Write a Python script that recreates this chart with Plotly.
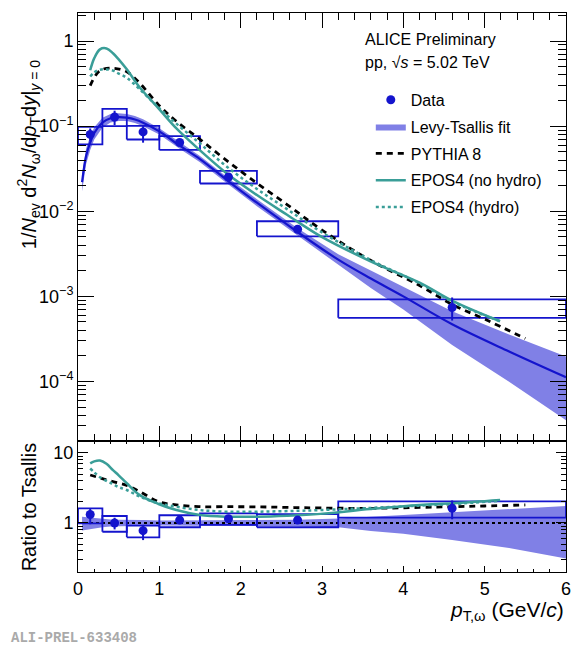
import plotly.graph_objects as go

# --- data ---
bin_lo = [0.0, 0.3, 0.6, 1.0, 1.5, 2.2, 3.2]
bin_hi = [0.3, 0.6, 1.0, 1.5, 2.2, 3.2, 6.0]
pt = [0.15, 0.45, 0.8, 1.25, 1.85, 2.7, 4.6]

yield_val = [0.080, 0.128, 0.0857, 0.0643, 0.0253, 0.00614, 7.4e-4]
stat_hi = [0.094, 0.152, 0.100, 0.070, 0.0270, 0.0067, 9.7e-4]
stat_lo = [0.066, 0.103, 0.064, 0.059, 0.0237, 0.0056, 5.2e-4]
syst_hi = [0.098, 0.160, 0.101, 0.0763, 0.0298, 0.00763, 9.2e-4]
syst_lo = [0.061, 0.100, 0.0697, 0.0526, 0.0212, 0.00508, 5.6e-4]

ratio_val = [1.32, 1.00, 0.777, 1.10, 1.15, 1.10, 1.62]
ratio_stat_hi = [1.62, 1.19, 0.94, 1.22, 1.24, 1.24, 2.10]
ratio_stat_lo = [0.96, 0.81, 0.57, 0.99, 1.06, 0.97, 1.13]
ratio_syst_hi = [1.62, 1.26, 0.916, 1.29, 1.37, 1.34, 2.04]
ratio_syst_lo = [0.99, 0.75, 0.624, 0.87, 0.94, 0.87, 1.19]

# Levy-Tsallis fit and its band
fit_x = [0.05, 0.1, 0.15, 0.2, 0.3, 0.4, 0.5, 0.6, 0.7, 0.8, 1.0, 1.25, 1.5,
         1.85, 2.2, 2.7, 3.2, 3.6, 4.0, 4.6, 5.3, 6.0]
fit_y = [0.022, 0.045, 0.064, 0.083, 0.110, 0.124, 0.128, 0.126, 0.120, 0.110,
         0.087, 0.059, 0.041, 0.0225, 0.0126, 0.0057, 0.0027, 0.00162, 0.00100,
         4.7e-4, 2.25e-4, 1.12e-4]
fit_hi = [0.0271, 0.0545, 0.0762, 0.0971, 0.1254, 0.1389, 0.1421, 0.1386, 0.132,
          0.121, 0.0948, 0.0643, 0.0447, 0.0245, 0.01386, 0.00633, 0.00313,
          0.00201, 0.0013, 6.67e-4, 3.56e-4, 1.96e-4]
fit_lo = [0.0172, 0.036, 0.0525, 0.0697, 0.0957, 0.1104, 0.1152, 0.1147, 0.1092,
          0.1001, 0.080, 0.0543, 0.0377, 0.0207, 0.01147, 0.00513, 0.00235,
          0.00125, 0.0007, 2.68e-4, 9.9e-5, 3.5e-5]
band_ratio_hi = [1.23, 1.21, 1.19, 1.17, 1.14, 1.12, 1.11, 1.10, 1.10, 1.10, 1.09,
                 1.09, 1.09, 1.09, 1.10, 1.11, 1.16, 1.24, 1.30, 1.42, 1.58, 1.75]
band_ratio_lo = [0.78, 0.80, 0.82, 0.84, 0.87, 0.89, 0.90, 0.91, 0.91, 0.91, 0.92,
                 0.92, 0.92, 0.92, 0.91, 0.90, 0.87, 0.77, 0.70, 0.57, 0.44, 0.31]

# models
epos_x = [0.15, 0.2, 0.27, 0.35, 0.43, 0.5, 0.6, 0.76, 0.99, 1.21, 1.5, 1.83,
          2.2, 2.57, 2.98, 3.59, 4.2, 4.61, 5.19]
epos_nohydro = [0.454, 0.63, 0.80, 0.82, 0.72, 0.61, 0.466, 0.285, 0.162, 0.094,
                0.052, 0.0278, 0.0155, 0.0091, 0.0051, 0.0026, 0.00145, 8.8e-4,
                5.1e-4]
epos_nohydro_ratio = [7.1, 7.6, 7.8, 7.0, 5.7, 4.8, 3.7, 2.5, 1.87, 1.53, 1.30,
                      1.23, 1.23, 1.27, 1.35, 1.58, 1.81, 1.91, 2.13]
epos_hydro = [0.384, 0.43, 0.46, 0.465, 0.45, 0.415, 0.37, 0.271, 0.166, 0.107,
              0.0625, 0.0334, 0.0183, 0.0106, 0.0058, 0.0027, 0.00142, 8.6e-4,
              5.1e-4]
epos_hydro_ratio = [6.0, 5.3, 4.5, 4.0, 3.6, 3.25, 2.96, 2.38, 1.91, 1.71, 1.53,
                    1.45, 1.45, 1.48, 1.53, 1.64, 1.77, 1.87, 2.08]
pythia_x = [0.15, 0.27, 0.43, 0.6, 0.76, 0.99, 1.21, 1.5, 1.83, 2.2, 2.57, 2.98,
            3.59, 4.2, 4.61, 5.0, 5.5]
pythia = [0.30, 0.45, 0.48, 0.435, 0.32, 0.178, 0.114, 0.070, 0.0393, 0.0214,
          0.0120, 0.0062, 0.00267, 0.00134, 7.95e-4, 5.4e-4, 3.2e-4]
pythia_ratio = [4.85, 4.4, 3.9, 3.45, 2.8, 2.02, 1.81, 1.71, 1.71, 1.70, 1.67,
                1.64, 1.62, 1.67, 1.71, 1.75, 1.81]

BLUE = "rgb(20,20,205)"
BAND = "rgb(128,128,230)"
TEAL = "rgb(58,158,152)"
FONT = "Liberation Sans"


def box_path(lo, hi, ylo, yhi):
    xs, ys = [], []
    for a, b, c, d in zip(lo, hi, ylo, yhi):
        xs += [a, b, b, a, a, None]
        ys += [c, c, d, d, c, None]
    return xs, ys


fig = go.Figure()

for xa, ya, band_hi, band_lo, fy, vals, shi, slo, bhi, blo, mods, top in [
    ("x", "y", fit_hi, fit_lo, fit_y, yield_val, stat_hi, stat_lo, syst_hi, syst_lo,
     (pythia, epos_nohydro, epos_hydro), True),
    ("x2", "y2", band_ratio_hi, band_ratio_lo, [1] * len(fit_x), ratio_val,
     ratio_stat_hi, ratio_stat_lo, ratio_syst_hi, ratio_syst_lo,
     (pythia_ratio, epos_nohydro_ratio, epos_hydro_ratio), False),
]:
    fig.add_trace(go.Scatter(
        x=fit_x + fit_x[::-1], y=band_hi + band_lo[::-1], xaxis=xa, yaxis=ya,
        fill="toself", fillcolor=BAND, line=dict(width=0), mode="lines",
        name="Levy-Tsallis fit", legendgroup="b", showlegend=top, legendrank=2,
        hoverinfo="skip"))
    if top:
        fig.add_trace(go.Scatter(
            x=fit_x, y=fy, xaxis=xa, yaxis=ya, mode="lines", line_shape="spline",
            line=dict(color=BLUE, width=2.2), showlegend=False))
    else:
        fig.add_trace(go.Scatter(
            x=[0, 6], y=[1, 1], xaxis=xa, yaxis=ya, mode="lines",
            line=dict(color="black", width=2, dash="dot"), showlegend=False))
    bx, by = box_path(bin_lo, bin_hi, blo, bhi)
    fig.add_trace(go.Scatter(
        x=bx, y=by, xaxis=xa, yaxis=ya, mode="lines",
        line=dict(color=BLUE, width=1.8), showlegend=False))
    fig.add_trace(go.Scatter(
        x=pythia_x, y=mods[0], xaxis=xa, yaxis=ya, mode="lines", line_shape="spline",
        line=dict(color="black", width=2.8, dash="6px,5px"),
        name="PYTHIA 8", legendgroup="c", showlegend=top, legendrank=3))
    fig.add_trace(go.Scatter(
        x=epos_x, y=mods[1], xaxis=xa, yaxis=ya, mode="lines", line_shape="spline",
        line=dict(color=TEAL, width=2.5),
        name="EPOS4 (no hydro)", legendgroup="d", showlegend=top, legendrank=4))
    fig.add_trace(go.Scatter(
        x=epos_x, y=mods[2], xaxis=xa, yaxis=ya, mode="lines", line_shape="spline",
        line=dict(color=TEAL, width=2.5, dash="dot"),
        name="EPOS4 (hydro)", legendgroup="e", showlegend=top, legendrank=5))
    fig.add_trace(go.Scatter(
        x=pt, y=vals, xaxis=xa, yaxis=ya, mode="markers",
        marker=dict(color=BLUE, size=9),
        error_y=dict(type="data", symmetric=False,
                     array=[h - v for h, v in zip(shi, vals)],
                     arrayminus=[v - l for l, v in zip(slo, vals)],
                     color=BLUE, thickness=2, width=0),
        name="Data", legendgroup="a", showlegend=top, legendrank=1))

axis_common = dict(showline=True, linecolor="black", linewidth=1, mirror="ticks",
                   ticks="inside", tickcolor="black", showgrid=False, zeroline=False,
                   tickfont=dict(family=FONT, size=18, color="black"))
split = 0.2343

# page body has an 8px margin, so the figure is shrunk by 8px on each axis
fig.update_layout(
    width=573, height=642,
    margin=dict(l=70, r=15, t=5, b=78),
    plot_bgcolor="white", paper_bgcolor="white",
    font=dict(family=FONT, color="black"),
    showlegend=True,
    legend=dict(x=0.6, y=0.875, xanchor="left", yanchor="top",
                font=dict(family=FONT, size=16), bgcolor="rgba(0,0,0,0)",
                itemwidth=30, tracegroupgap=3, traceorder="grouped"),
    xaxis=dict(axis_common, domain=[0, 1], anchor="y", range=[0, 6], dtick=1,
               showticklabels=False, ticklen=15,
               minor=dict(ticks="inside", dtick=0.2, ticklen=7, tickcolor="black")),
    yaxis=dict(axis_common, domain=[split, 1], anchor="x", type="log",
               range=[-4.70, 0.33], ticklen=16,
               tickvals=[1e-4, 1e-3, 1e-2, 1e-1, 1],
               ticktext=["10<sup>−4</sup>", "10<sup>−3</sup>", "10<sup>−2</sup>",
                         "10<sup>−1</sup>", "1"],
               minor=dict(ticks="inside", ticklen=8, tickcolor="black",
                          tickvals=[m * 10 ** e for e in range(-5, 1)
                                    for m in range(2, 10)])),
    xaxis2=dict(axis_common, domain=[0, 1], anchor="y2", range=[0, 6], dtick=1,
                matches="x", ticklen=6,
                minor=dict(ticks="inside", dtick=0.2, ticklen=3, tickcolor="black")),
    yaxis2=dict(axis_common, domain=[0, split], anchor="x2", type="log",
                range=[-0.70, 1.171], ticklen=10,
                tickvals=[1, 10], ticktext=["1", "10"],
                minor=dict(ticks="inside", ticklen=5, tickcolor="black",
                           tickvals=[m * 10 ** e for e in range(-1, 2)
                                     for m in range(2, 10)])),
)

ann = [
    dict(text="ALICE Preliminary", x=0.584, y=0.952, size=16),
    dict(text="pp, √<i>s</i> = 5.02 TeV", x=0.584, y=0.911, size=16),
]
for a in ann:
    fig.add_annotation(text=a["text"], x=a["x"], y=a["y"], xref="paper", yref="paper",
                       xanchor="left", yanchor="middle", showarrow=False,
                       font=dict(family=FONT, size=a["size"], color="black"))

fig.add_annotation(
    text="1/<i>N</i><sub>ev</sub> d<sup>2</sup><i>N</i><sub>ω</sub>/d<i>p</i><sub>T</sub>d<i>y</i>|<sub><i>y</i> = 0</sub>",
    x=-0.1, y=0.746, xref="paper", yref="paper", textangle=-90,
    xanchor="center", yanchor="middle", showarrow=False,
    font=dict(family=FONT, size=20, color="black"))
fig.add_annotation(
    text="Ratio to Tsallis", x=-0.1, y=0.116, xref="paper", yref="paper",
    textangle=-90, xanchor="center", yanchor="middle", showarrow=False,
    font=dict(family=FONT, size=20, color="black"))
fig.add_annotation(
    text="<i>p</i><sub>T,ω</sub> (GeV/<i>c</i>)", x=1.0, y=-0.07,
    xref="paper", yref="paper", xanchor="right", yanchor="middle", showarrow=False,
    font=dict(family=FONT, size=21, color="black"))
fig.add_annotation(
    text="<b>ALI-PREL-633408</b>", x=-0.142, y=-0.118, xref="paper", yref="paper",
    xanchor="left", yanchor="middle", showarrow=False,
    font=dict(family="Liberation Mono", size=14, color="rgb(170,170,170)"))

fig.write_html("out.html")
